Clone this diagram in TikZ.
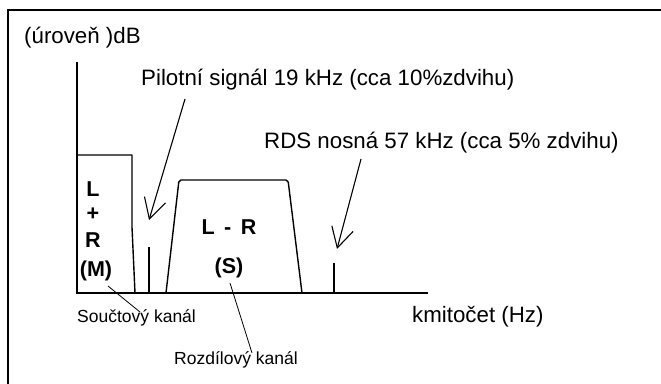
\documentclass[tikz,border=0pt]{standalone}
\usepackage{fontspec}
\setmainfont{Liberation Sans}
\usetikzlibrary{arrows.meta}
\tikzset{
  big/.style={inner sep=0pt, font=\fontsize{22.3}{25}\selectfont},
  small/.style={inner sep=0pt, font=\fontsize{17.5}{20}\selectfont},
  bold/.style={inner sep=0pt, font=\fontsize{21.5}{24}\selectfont\bfseries},
  frame/.style={line width=1.5pt},
  axis/.style={line width=1.6pt},
  curve/.style={line width=1.4pt, line join=round},
  ptr/.style={line width=1.1pt, -{Straight Barb[length=20pt,width=22pt,line width=1.1pt]}},
  leader/.style={line width=0.8pt}
}
\begin{document}
\begin{tikzpicture}[x=1pt,y=-1pt]
\useasboundingbox (0,0) rectangle (661,383);
% frame (cropped at right and bottom)
\coordinate (fbl) at (8,384);
\coordinate (ftl) at (8,10);
\coordinate (ftr) at (662,10);
\draw[frame] (fbl) -- (ftl) -- (ftr);
% axes
\coordinate (O) at (77,293);
\coordinate (ytop) at (77,62);
\coordinate (xend) at (428,293);
\draw[axis] (ytop) -- (O) -- (xend);
% L+R block
\draw[curve] (77,155) -- (132,155) -- (132,227) -- (135,293);
% pilot tone
\draw[curve] (149,247) -- (149,293);
% L-R band
\draw[curve, rounded corners=2pt] (166,293) -- (179,180) -- (288,180) -- (302,293);
% RDS carrier
\draw[curve] (334,263) -- (334,293);
% texts
\node[big, anchor=west] (ylab) at (24,38) {(úroveň )dB};
\node[big, anchor=west] (pilot) at (141,80) {Pilotní signál 19 kHz (cca 10\%zdvihu)};
\node[big, anchor=west] (rds) at (264,143) {RDS nosná 57 kHz (cca 5\% zdvihu)};
\node[big, anchor=west] (xlab) at (412,317) {kmitočet (Hz)};
\node[small, anchor=west] (sum) at (77,318) {Součtový kanál};
\node[small, anchor=west] (diff) at (174,360) {Rozdílový kanál};
\node[bold] (lL) at (93,189) {L};
\node[bold] (lplus) at (93,214) {+};
\node[bold] (lR) at (93,240) {R};
\node[bold] (lM) at (96,271) {(M)};
\node[bold] (lLR) at (229,227) {L\ \,-\ \,R};
\node[bold] (lS) at (229,268) {(S)};
% arrows
\coordinate (pstart) at (185,99);
\coordinate (ptip) at (149,220);
\draw[ptr] (pstart) -- (ptip);
\coordinate (rstart) at (361,159);
\coordinate (rtip) at (337,249);
\draw[ptr] (rstart) -- (rtip);
% leaders
\coordinate (m1) at (108,286);
\coordinate (m2) at (140,312);
\draw[leader] (m1) -- (m2);
\coordinate (s1) at (230,283);
\coordinate (s2) at (252,353);
\draw[leader] (s1) -- (s2);
\end{tikzpicture}
\end{document}
